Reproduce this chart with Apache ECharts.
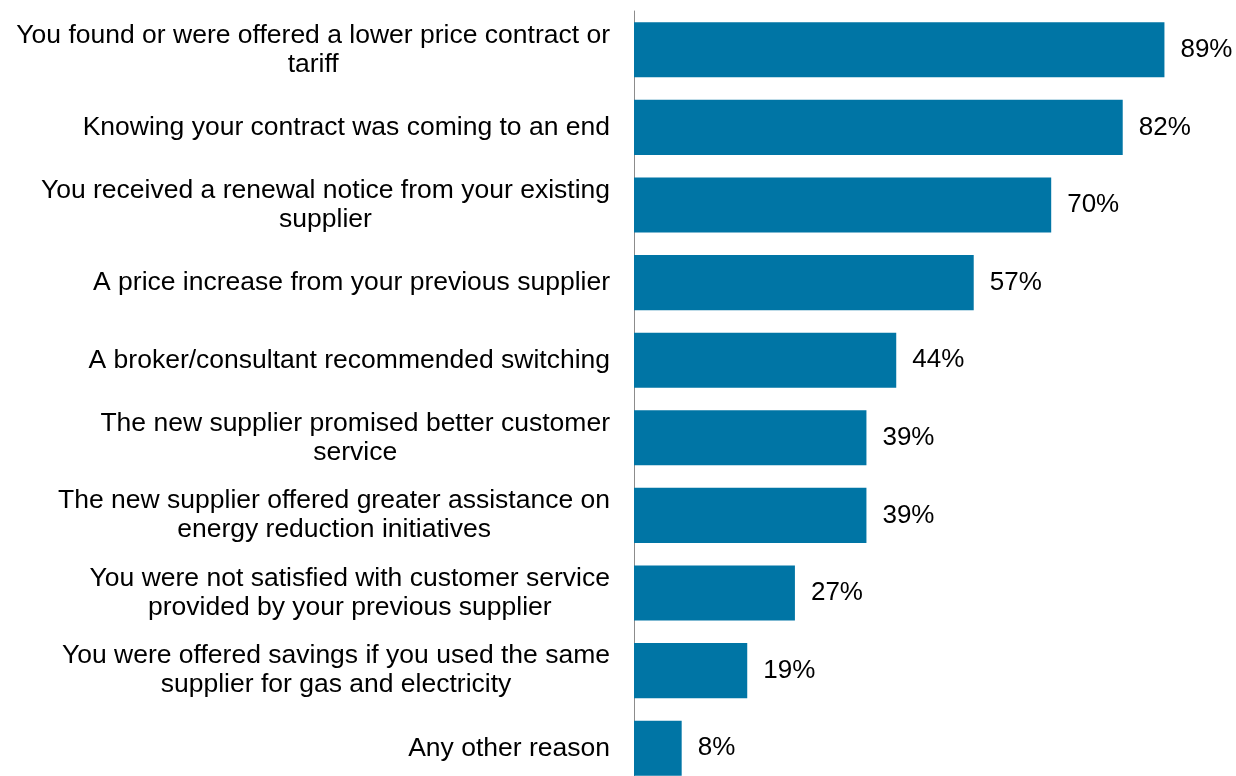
<!DOCTYPE html>
<html>
<head>
<meta charset="utf-8">
<script src="https://cdn.jsdelivr.net/npm/echarts@6/dist/echarts.min.js"></script>
<style>
  html, body { margin: 0; padding: 0; background: #fff; overflow: hidden; }
  #chart { width: 1236px; height: 787px; }
</style>
</head>
<body>
<div id="chart"></div>
<script>
// categories, top to bottom
var reasons = [
  'You found or were offered a lower price contract or\ntariff',
  'Knowing your contract was coming to an end',
  'You received a renewal notice from your existing\nsupplier',
  'A price increase from your previous supplier',
  'A broker/consultant recommended switching',
  'The new supplier promised better customer\nservice',
  'The new supplier offered greater assistance on\nenergy reduction initiatives',
  'You were not satisfied with customer service\nprovided by your previous supplier',
  'You were offered savings if you used the same\nsupplier for gas and electricity',
  'Any other reason'
];
var shares = [89, 82, 70, 57, 44, 39, 39, 27, 19, 8];

var chart = echarts.init(document.getElementById('chart'));

var option = {
  backgroundColor: '#fff',
  animation: false,
  grid: {
    left: 634,
    right: 6,
    top: 11,
    bottom: 0,
    containLabel: false
  },
  xAxis: {
    type: 'value',
    min: 0,
    max: 100,
    show: false
  },
  yAxis: {
    type: 'category',
    inverse: true,
    data: reasons,
    axisLine: { show: true, lineStyle: { color: '#8c8c8c', width: 1 } },
    axisTick: { show: false },
    axisLabel: {
      margin: 24,
      align: 'right',
      fontFamily: 'Liberation Sans, Arial, sans-serif',
      fontSize: 26.5,
      lineHeight: 29,
      color: '#000',
      // wrapped lines are centred under each other
      formatter: function (v) {
        return v.split('\n').map(function (l) { return '{c|' + l + '}'; }).join('\n');
      },
      rich: {
        c: {
          align: 'center',
          fontFamily: 'Liberation Sans, Arial, sans-serif',
          fontSize: 26.5,
          lineHeight: 29,
          color: '#000'
        }
      }
    }
  },
  series: [{
    type: 'bar',
    data: shares,
    barCategoryGap: '29%',
    itemStyle: { color: '#0075A5' },
    label: {
      show: true,
      position: 'right',
      distance: 16,
      formatter: '{c}%',
      fontFamily: 'Liberation Sans, Arial, sans-serif',
      fontSize: 26,
      color: '#000'
    }
  }]
};

chart.setOption(option);
</script>
</body>
</html>
